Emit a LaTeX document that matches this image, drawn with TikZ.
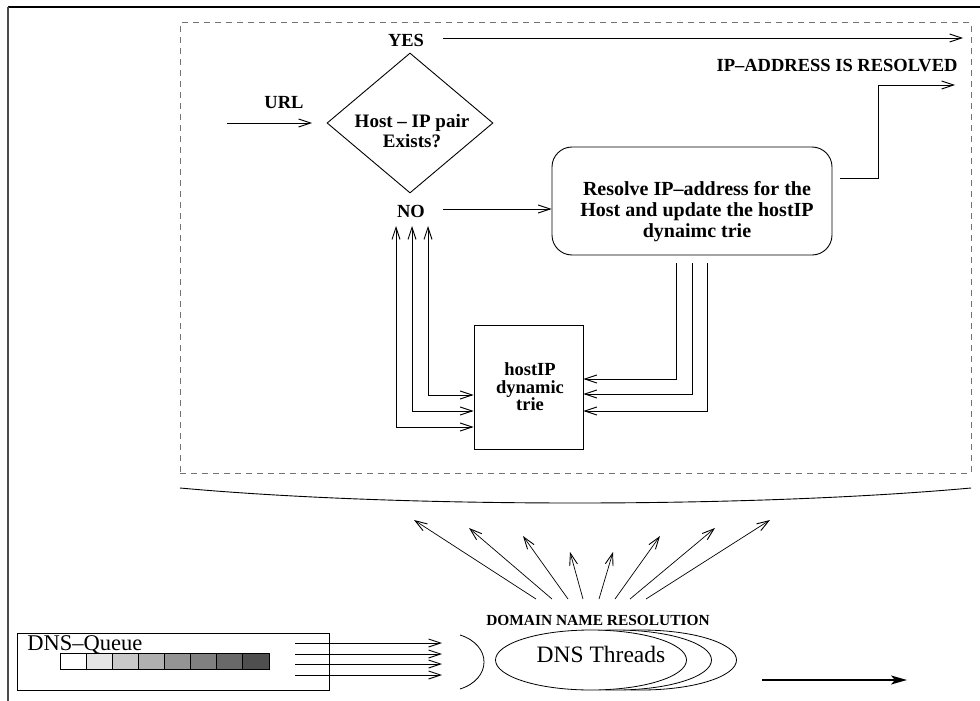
\documentclass[tikz,border=0pt]{standalone}
\usepackage{fontspec}
\setmainfont{Liberation Serif}
\usetikzlibrary{arrows.meta,shapes.geometric}
\begin{document}
\begin{tikzpicture}[x=1pt,y=-1pt,line width=0.9pt,
  barb/.tip={Straight Barb[length=12pt,width=8pt,line width=0.9pt]},
  arr/.style={-barb},
  darr/.style={barb-barb},
  bigarr/.style={line width=2pt,-{Stealth[length=16pt,width=9pt,inset=4pt]}},
  lbl/.style={font=\fontsize{18.5}{20}\selectfont\bfseries,inner sep=0pt,anchor=base},
  mlbl/.style={font=\fontsize{19}{20.5}\selectfont\bfseries,inner sep=0pt,align=center},
  shapebox/.style={draw,inner sep=0pt},
  cell/.style={draw,inner sep=0pt,minimum width=26.125pt,minimum height=16pt,line width=0.8pt},
  thread/.style={draw,fill=white,ellipse,inner sep=0pt,minimum width=191pt,minimum height=60pt,line width=0.8pt}]
\useasboundingbox (0,0) rectangle (980,701);
% outer partial frame
\coordinate (fTL) at (8,7);
\coordinate (fTR) at (980,7);
\coordinate (fBL) at (8,701);
\draw[line width=1.2pt] (fTR) -- (fTL);
\draw[line width=1.2pt,black!70] (fTL) -- (fBL);
% dashed region
\node[draw=black!55,dash pattern=on 6pt off 5pt,line width=1pt,inner sep=0pt,
      minimum width=791pt,minimum height=450pt] (region) at (575.5,248) {};
% curved line
\coordinate (cL) at (180,488);
\coordinate (cR) at (971,488);
\draw (cL) .. controls (400,508) and (750,508) .. (cR);
% decision
\node[shapebox,diamond,minimum width=166pt,minimum height=140pt] (dec) at (410,123) {};
\node[mlbl] (dectext) at (412,131) {Host – IP pair\\Exists?};
\node[lbl] (yes) at (406,47) {YES};
\node[lbl] (no) at (411,217) {NO};
\node[lbl] (url) at (284,108) {URL};
\coordinate (urlA) at (227,123);
\coordinate (urlB) at (312,123);
\draw[arr] (urlA) -- (urlB);
\coordinate (yesA) at (443,38);
\coordinate (yesB) at (963,38);
\draw[arr] (yesA) -- (yesB);
\node[lbl,anchor=base east] (resolved) at (958,72) {IP–ADDRESS IS RESOLVED};
% resolve box
\node[shapebox,rounded corners=20pt,minimum width=280pt,minimum height=108pt] (res) at (692,201) {};
\node[mlbl,font=\fontsize{20}{21}\selectfont\bfseries] (restext) at (697,212) {Resolve IP–address for the\\Host and update the hostIP\\dynaimc trie};
\coordinate (noA) at (443,209);
\draw[arr] (noA) -- (res.west |- noA);
\coordinate (rs) at (840,178);
\coordinate (rk) at (878,85);
\coordinate (re) at (955,85);
\draw[arr] (rs) -| (rk) -- (re);
% trie box
\node[shapebox,minimum width=109pt,minimum height=124pt] (trie) at (528.5,387) {};
\node[mlbl,font=\fontsize{18.5}{17.5}\selectfont\bfseries] (trietext) at (530,387) {hostIP\\dynamic\\trie};
\foreach \x/\y in {396/427,412/411,428/395}{
  \coordinate (up\x) at (\x,226);
  \draw[darr] (up\x) |- (trie.west |- 0,\y);
}
\foreach \x/\y in {676/379,692/394,707/411}{
  \coordinate (dn\x) at (\x,263);
  \draw[arr] (dn\x) |- (trie.east |- 0,\y);
}
% fan of arrows
\foreach \bx/\tx/\ty [count=\i] in {536/414/520,552/469/528,568/523/536,583/570/552,599/613/552,615/660/536,630/715/528,646/770/520}{
  \coordinate (fb\i) at (\bx,599);
  \coordinate (ft\i) at (\tx,\ty);
  \draw[arr,line width=0.7pt] (fb\i) -- (ft\i);
}
% DNS queue
\node[shapebox,line width=0.8pt,minimum width=312pt,minimum height=57pt] (queue) at (173,661.5) {};
\node[inner sep=0pt,anchor=base west,font=\fontsize{22.5}{24}\selectfont] (qtext) at (27,650) {DNS–Queue};
\foreach \g [count=\i] in {100,90,79,69,58,50,41,31}{
  \node[cell,fill=black!\the\numexpr100-\g\relax] (c\i) at ({60+26.125*(\i-0.5)},661) {};
}
\foreach \y [count=\i] in {643,654,664,675}{
  \coordinate (qa\i) at (295,\y);
  \coordinate (qb\i) at (442,\y);
  \draw[arr,line width=0.8pt] (qa\i) -- (qb\i);
}
% bracket
\coordinate (brT) at (460,635);
\coordinate (brB) at (460,689);
\draw[line width=0.8pt] (brT) .. controls (492,645) and (492,679) .. (brB);
% threads
\node[lbl,font=\fontsize{15.4}{17}\selectfont\bfseries,anchor=base] (dnr) at (598,625) {DOMAIN NAME RESOLUTION};
\node[thread] (t3) at (641,660) {};
\node[thread] (t2) at (616,660) {};
\node[thread] (t1) at (591,660) {};
\node[inner sep=0pt,anchor=base,font=\fontsize{23.5}{25}\selectfont] (dnst) at (601,662) {DNS Threads};
\coordinate (oa) at (762,680);
\coordinate (ob) at (907,680);
\draw[bigarr] (oa) -- (ob);
\end{tikzpicture}
\end{document}
